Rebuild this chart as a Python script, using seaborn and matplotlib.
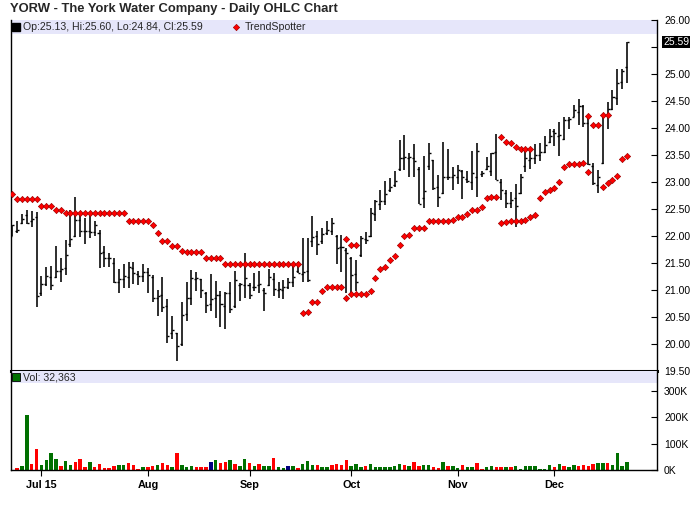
import numpy as np
import pandas as pd
import matplotlib
matplotlib.use("Agg")
import matplotlib.pyplot as plt
import matplotlib.transforms as mtransforms
from matplotlib.patches import Rectangle
import seaborn as sns

# ====================================================
# DATA  (YORW daily bars, Jun 23 - Dec 22 2015)
# ====================================================

opens = [22.00, 22.10, 22.25, 22.38, 22.28, 22.35, 20.95, 21.12, 21.25, 21.25,
         21.35, 21.40, 21.85, 22.00, 22.30, 22.10, 22.10, 22.08, 22.05, 21.70,
         21.60, 21.50, 21.15, 21.20, 21.25, 21.40, 21.30, 21.26, 21.34, 21.25,
         20.85, 20.90, 20.70, 20.20, 20.20, 20.00, 20.55, 20.85, 21.20, 21.20,
         20.95, 20.75, 20.85, 20.90, 20.70, 20.95, 20.70, 21.10, 21.10, 21.10,
         21.05, 21.10, 21.00, 21.10, 21.20, 21.00, 21.00, 21.06, 21.15, 21.35,
         21.30, 21.35, 21.90, 22.00, 21.90, 22.05, 22.10, 22.00, 21.80, 21.75,
         21.60, 21.30, 21.65, 21.95, 22.00, 22.40, 22.60, 22.65, 22.85, 22.95,
         23.25, 23.45, 23.45, 23.45, 23.25, 22.70, 23.30, 23.40, 22.90, 22.80,
         23.10, 23.10, 23.10, 23.20, 23.05, 23.00, 23.10, 23.15, 23.25, 23.20,
         23.55, 23.00, 22.80, 22.62, 22.70, 22.79, 23.30, 23.40, 23.45, 23.50,
         23.55, 23.75, 23.95, 23.85, 23.80, 24.15, 24.20, 24.30, 24.40, 24.10,
         23.30, 22.95, 23.35, 24.25, 24.35, 24.55, 24.85, 25.13]
highs = [22.20, 22.27, 22.40, 22.48, 22.47, 22.45, 21.26, 21.42, 21.44, 21.81,
         21.60, 21.92, 22.49, 22.72, 22.42, 22.33, 22.42, 22.28, 22.11, 21.81,
         21.68, 21.60, 21.39, 21.49, 21.51, 21.51, 21.36, 21.49, 21.40, 21.28,
         21.00, 21.24, 20.83, 20.52, 20.21, 20.78, 21.15, 21.37, 21.34, 21.20,
         20.96, 21.30, 21.17, 20.99, 20.97, 21.14, 21.35, 21.13, 21.69, 21.13,
         21.31, 21.36, 21.03, 21.38, 21.31, 21.15, 21.19, 21.22, 21.44, 21.52,
         21.97, 21.97, 22.37, 22.09, 22.14, 22.27, 22.33, 22.02, 22.02, 21.77,
         21.62, 21.56, 22.00, 22.08, 22.51, 22.67, 22.86, 23.01, 23.07, 23.21,
         23.77, 23.87, 23.54, 23.70, 23.28, 23.48, 23.73, 23.41, 23.13, 23.75,
         23.62, 23.28, 23.31, 23.22, 23.21, 23.57, 23.72, 23.21, 23.46, 23.54,
         23.88, 23.05, 22.86, 22.82, 22.96, 23.15, 23.62, 23.62, 23.70, 23.73,
         23.85, 23.99, 23.99, 24.12, 24.20, 24.20, 24.43, 24.53, 24.43, 24.22,
         23.36, 23.23, 24.24, 24.49, 24.70, 25.10, 25.09, 25.60]
lows = [22.00, 22.05, 22.22, 22.22, 22.17, 20.69, 20.89, 21.07, 21.00, 21.23,
        21.15, 21.28, 21.79, 21.98, 21.99, 21.86, 21.96, 22.00, 21.40, 21.42,
        21.42, 21.13, 20.94, 21.03, 21.04, 21.12, 21.09, 21.15, 20.95, 20.77,
        20.51, 20.60, 20.02, 20.09, 19.69, 19.96, 20.43, 20.73, 20.99, 20.85,
        20.58, 20.62, 20.48, 20.32, 20.27, 20.58, 20.66, 20.80, 20.85, 20.83,
        20.99, 20.94, 20.61, 21.07, 20.89, 20.86, 20.83, 21.01, 21.06, 21.31,
        21.14, 21.14, 21.80, 21.65, 21.85, 22.02, 22.02, 21.49, 21.34, 20.95,
        20.94, 20.99, 21.62, 21.85, 21.98, 22.28, 22.48, 22.57, 22.82, 22.91,
        23.21, 23.22, 23.09, 23.09, 22.59, 22.51, 23.22, 22.86, 22.53, 22.77,
        23.04, 22.85, 22.96, 22.68, 22.98, 22.86, 22.72, 23.09, 23.22, 23.11,
        23.04, 22.67, 22.51, 22.51, 22.17, 22.78, 23.19, 23.25, 23.33, 23.38,
        23.54, 23.72, 23.67, 23.48, 23.78, 23.99, 24.20, 24.06, 24.02, 23.32,
        22.95, 22.80, 23.33, 23.99, 24.33, 24.43, 24.72, 24.84]
closes = [22.20, 22.12, 22.31, 22.25, 22.31, 20.88, 21.11, 21.26, 21.09, 21.35,
          21.38, 21.65, 21.94, 22.30, 22.09, 22.09, 22.08, 22.20, 21.68, 21.60,
          21.60, 21.15, 21.20, 21.26, 21.43, 21.31, 21.26, 21.34, 21.28, 20.86,
          20.88, 20.68, 20.15, 20.26, 19.96, 20.54, 20.86, 21.23, 21.23, 21.00,
          20.72, 20.83, 20.91, 20.75, 20.94, 20.64, 21.18, 21.11, 21.23, 20.91,
          21.06, 21.11, 20.94, 21.25, 21.01, 21.01, 21.06, 21.15, 21.25, 21.32,
          21.34, 21.19, 21.99, 21.85, 22.04, 22.11, 22.25, 21.77, 21.79, 21.69,
          21.28, 21.15, 21.96, 21.93, 22.43, 22.64, 22.64, 22.78, 22.91, 23.01,
          23.45, 23.46, 23.47, 23.38, 22.60, 22.84, 23.53, 22.88, 22.72, 23.09,
          23.09, 23.13, 23.22, 23.09, 23.01, 23.17, 23.58, 23.17, 23.30, 23.53,
          23.04, 22.86, 22.61, 22.66, 22.56, 23.10, 23.44, 23.44, 23.50, 23.56,
          23.69, 23.85, 23.90, 23.87, 24.15, 24.16, 24.33, 24.40, 24.09, 23.33,
          22.98, 23.10, 24.24, 24.36, 24.58, 24.83, 25.05, 25.59]

# volume in thousands of shares, and up / down / unchanged day
volume_k = [0, 9, 15, 211, 23, 81, 19, 38, 65, 42,
            15, 35, 19, 31, 42, 12, 31, 12, 23, 8,
            8, 15, 19, 19, 27, 19, 4, 12, 12, 15,
            19, 27, 19, 12, 65, 19, 12, 15, 12, 12,
            12, 31, 38, 27, 31, 38, 23, 15, 42, 27,
            15, 23, 15, 15, 46, 12, 8, 15, 15, 8,
            23, 35, 19, 19, 12, 12, 19, 23, 19, 38,
            15, 23, 12, 15, 23, 12, 12, 12, 12, 15,
            23, 19, 15, 31, 15, 19, 19, 12, 8, 31,
            15, 15, 8, 19, 12, 12, 27, 4, 12, 15,
            12, 12, 12, 12, 15, 4, 15, 15, 15, 4,
            4, 19, 12, 23, 15, 12, 19, 15, 19, 15,
            23, 27, 27, 27, 19, 65, 15, 32.363]
vol_dir = "".join([
    "nduudduuuu", "duuddduddd", "dduudddudd", "udduduuudd", "dnudduduud",
    "uduuduunud", "uuuduudddd", "uuuduuuuuu", "ududduuddu", "duuduudduu",
    "dduduuuuuu", "uududuuddd", "duuduuuu",
])

trend_upper = ([22.78, 22.68, 22.68, 22.68, 22.68, 22.68, 22.55, 22.55, 22.55, 22.49,
                22.49, 22.42, 22.42, 22.42, 22.42, 22.42, 22.42, 22.42, 22.42, 22.42,
                22.42, 22.42, 22.42, 22.42, 22.28, 22.28, 22.28, 22.28, 22.28, 22.20,
                22.05, 21.91, 21.91, 21.81, 21.81, 21.73, 21.70, 21.70, 21.70, 21.70,
                21.59, 21.59, 21.59, 21.59, 21.49, 21.49, 21.49, 21.49, 21.49, 21.49,
                21.49, 21.49, 21.49, 21.49, 21.49, 21.49, 21.49, 21.49, 21.49, 21.49]
               + [None] * 9 + [21.94, 21.83, 21.83] + [None] * 29
               + [23.83, 23.75, 23.72, 23.64, 23.61, 23.61, 23.61] + [None] * 11
               + [24.22, 24.06, 24.06, 24.24, 24.24] + [None] * 4)
trend_lower = ([None] * 60
               + [20.57, 20.60, 20.77, 20.77, 20.99, 21.05, 21.05, 21.05, 21.05, 20.86,
                  20.93, 20.93, 20.93, 20.93, 20.99, 21.22, 21.38, 21.42, 21.56, 21.63,
                  21.83, 22.00, 22.02, 22.14, 22.14, 22.14, 22.27, 22.27, 22.27, 22.27,
                  22.27, 22.30, 22.35, 22.35, 22.40, 22.49, 22.49, 22.53, 22.70, 22.73,
                  22.73, 22.25, 22.26, 22.27, 22.28, 22.28, 22.29, 22.35, 22.38, 22.70,
                  22.82, 22.85, 22.88, 23.00, 23.28, 23.33, 23.33, 23.33, 23.35, 23.18]
               + [None] * 2 + [22.90, 22.98, 23.04, 23.12, 23.42, 23.49])

month_pos = [6, 28, 49, 70, 92, 112]
month_labels = ["Jul 15", "Aug", "Sep", "Oct", "Nov", "Dec"]
price_ticks = [19.5, 20.0, 20.5, 21.0, 21.5, 22.0, 22.5, 23.0, 23.5, 24.0, 24.5, 25.0, 25.5, 26.0]
vol_ticks = [0, 100, 200, 300]

# ====================================================
# STYLE
# ====================================================

sns.set_style("white")
plt.rcParams["font.family"] = ["Liberation Sans", "DejaVu Sans"]

W, H = 700, 512


def box(x0, y0, x1, y1):
    # pixel box (top-left origin) -> figure fraction
    return [x0 / W, 1 - y1 / H, (x1 - x0) / W, (y1 - y0) / H]


fig = plt.figure(figsize=(7, 5.12), dpi=100)
ax = fig.add_axes(box(10.7, 20, 657, 371))
axv = fig.add_axes(box(10.7, 371, 657, 470), sharex=ax)

idx = np.arange(len(closes))
o = np.array(opens)
c = np.array(closes)

# ====================================================
# PRICE PANEL
# ====================================================

ax.add_patch(Rectangle((0, 1 - 14 / 351), 1, 14 / 351, transform=ax.transAxes,
                       facecolor="#e6e6fa", edgecolor="none", zorder=0))
ax.vlines(idx, lows, highs, color="black", lw=1.15, zorder=3)
ax.hlines(o, idx - 0.42, idx, color="black", lw=1.0, zorder=3)
ax.hlines(c, idx, idx + 0.42, color="black", lw=1.0, zorder=3)

for series in (trend_upper, trend_lower):
    sns.scatterplot(x=idx, y=np.array(series, dtype=float), ax=ax, marker="D",
                    s=10, color="#ff0000", edgecolor="#a00000", linewidth=0.5,
                    zorder=4, legend=False)

ax.set_ylim(19.5, 26.0)
ax.set_xlim(-0.35, 133.2)
ax.yaxis.tick_right()
ax.set_yticks(price_ticks)
ax.set_yticklabels(["" if t == 25.5 else f"{t:.2f}" for t in price_ticks])
ax.tick_params(axis="y", direction="in", length=4, width=0.8, pad=5,
               labelsize=7.5, colors="black", right=True, left=False)
ax.tick_params(axis="x", bottom=False, labelbottom=False)
ax.set_xlabel("")
ax.set_ylabel("")
for side in ("left", "right"):
    ax.spines[side].set_color("black")
    ax.spines[side].set_linewidth(1.0)
ax.spines["top"].set_visible(False)
ax.spines["bottom"].set_color("black")
ax.spines["bottom"].set_linewidth(2.2)

last_tr = mtransforms.blended_transform_factory(ax.transAxes, ax.transData)
ax.text(1.0095, closes[-1], f"{closes[-1]:.2f}", transform=last_tr, ha="left",
        va="center", fontsize=7.5, color="white", zorder=6, clip_on=False,
        bbox=dict(facecolor="black", edgecolor="none", pad=0.8))

# legend line
ax.plot([0.0085], [0.979], transform=ax.transAxes, marker="s", ms=5.5,
        color="black", clip_on=False)
ax.text(0.019, 0.979, f"Op:{opens[-1]:.2f}, Hi:{highs[-1]:.2f}, Lo:{lows[-1]:.2f}, Cl:{closes[-1]:.2f}",
        transform=ax.transAxes, va="center", ha="left", fontsize=7.6)
ax.plot([0.349], [0.979], transform=ax.transAxes, marker="D", ms=3.2,
        color="#ff0000", mec="#a00000", mew=0.5, clip_on=False)
ax.text(0.362, 0.979, "TrendSpotter", transform=ax.transAxes, va="center",
        ha="left", fontsize=7.6)

# ====================================================
# VOLUME PANEL
# ====================================================

vol_df = pd.DataFrame({"idx": idx, "vol": volume_k, "dir": list(vol_dir)})
sns.barplot(data=vol_df, x="idx", y="vol", hue="dir",
            palette={"u": "#007000", "d": "#ff0000", "n": "#000080"},
            native_scale=True, dodge=False, width=0.72, saturation=1,
            errorbar=None, linewidth=0, legend=False, ax=axv)

axv.add_patch(Rectangle((0, 1 - 12 / 99), 1, 12 / 99, transform=axv.transAxes,
                        facecolor="#e6e6fa", edgecolor="none", zorder=0))
axv.plot([0.0085], [0.935], transform=axv.transAxes, marker="s", ms=5.5,
         color="#007000", mec="black", mew=0.6, clip_on=False)
axv.text(0.019, 0.935, f"Vol: {volume_k[-1] * 1000:,.0f}", transform=axv.transAxes,
         va="center", ha="left", fontsize=7.6)

axv.set_ylim(0, 377)
axv.set_xlim(-0.35, 133.2)
axv.yaxis.tick_right()
axv.set_yticks(vol_ticks)
axv.set_yticklabels([f"{t}K" for t in vol_ticks])
axv.tick_params(axis="y", direction="in", length=4, width=0.8, pad=5,
                labelsize=7.5, colors="black", right=True, left=False)
axv.set_xticks(month_pos)
axv.set_xticklabels(month_labels, fontweight="bold", fontsize=7.8)
axv.tick_params(axis="x", direction="out", length=4, width=0.8, pad=3,
                bottom=True, colors="black")
axv.set_xlabel("")
axv.set_ylabel("")
for side in ("left", "right", "bottom"):
    axv.spines[side].set_color("black")
    axv.spines[side].set_linewidth(1.0)
axv.spines["top"].set_visible(False)

fig.text(10 / W, 1 - 9 / H, "YORW - The York Water Company - Daily OHLC Chart",
         fontsize=9.4, fontweight="bold", va="center", ha="left")

fig.savefig("out.png", dpi=100)
